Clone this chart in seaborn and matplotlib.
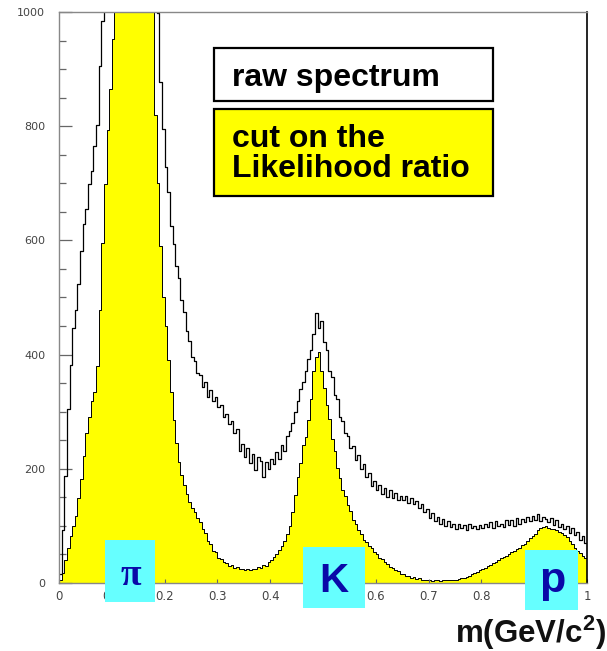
import numpy as np
import pandas as pd
import matplotlib
matplotlib.use("Agg")
import matplotlib.pyplot as plt
from matplotlib.patches import Rectangle
import seaborn as sns

# Invariant-mass spectrum, 200 bins of 5 MeV/c^2 between 0 and 1 GeV/c^2
bin_edges = [round(0.005 * i, 3) for i in range(201)]

raw_counts = [
    15, 92, 188, 305, 382, 446, 478, 524, 582, 628,
    655, 698, 722, 765, 802, 905, 985, 1105, 1245, 1410,
    1560, 1720, 1880, 2010, 2120, 2200, 2240, 2230, 2180, 2100,
    1950, 1780, 1600, 1420, 1260, 1150, 1065, 998, 878, 795,
    728, 684, 626, 594, 556, 534, 496, 474, 441, 424,
    396, 389, 368, 365, 344, 352, 326, 338, 318, 326,
    308, 312, 290, 296, 278, 284, 262, 270, 232, 244,
    221, 236, 210, 226, 198, 220, 214, 185, 212, 200,
    218, 208, 230, 218, 242, 232, 258, 266, 280, 300,
    318, 340, 352, 372, 392, 408, 436, 472, 446, 458,
    422, 408, 372, 360, 330, 322, 290, 284, 262, 258,
    236, 240, 216, 224, 200, 208, 186, 192, 170, 178,
    162, 172, 156, 166, 150, 162, 148, 158, 145, 152,
    146, 152, 140, 148, 138, 144, 132, 138, 124, 130,
    114, 122, 108, 116, 104, 112, 100, 108, 98, 104,
    94, 104, 96, 102, 92, 104, 96, 100, 94, 102,
    96, 104, 98, 106, 96, 108, 100, 104, 98, 110,
    102, 110, 100, 114, 104, 112, 106, 116, 108, 118,
    110, 120, 108, 116, 112, 106, 114, 102, 110, 98,
    104, 94, 100, 88, 96, 84, 90, 76, 82, 70,
]

cut_counts = [
    5, 18, 40, 62, 82, 100, 118, 148, 182, 222,
    262, 290, 318, 335, 380, 478, 596, 698, 794, 866,
    952, 1035, 1120, 1220, 1320, 1420, 1500, 1560, 1600, 1610,
    1580, 1520, 1430, 1320, 1200, 1000, 820, 700, 590, 500,
    450, 390, 335, 285, 245, 212, 190, 172, 156, 142,
    132, 124, 113, 107, 94, 88, 74, 68, 56, 54,
    44, 42, 36, 35, 30, 31, 27, 28, 24, 25,
    22, 24, 22, 25, 24, 28, 26, 31, 30, 36,
    40, 46, 50, 57, 64, 74, 86, 100, 124, 154,
    186, 210, 242, 255, 285, 322, 372, 396, 404, 372,
    342, 312, 288, 252, 232, 202, 184, 162, 152, 136,
    126, 110, 104, 92, 86, 76, 72, 64, 61, 54,
    51, 44, 42, 36, 34, 28, 27, 22, 21, 16,
    15, 12, 12, 9, 10, 7, 8, 6, 6, 5,
    5, 4, 5, 5, 4, 5, 5, 6, 5, 6,
    6, 7, 8, 9, 11, 12, 15, 17, 20, 22,
    25, 27, 30, 32, 35, 37, 40, 43, 46, 48,
    50, 54, 56, 60, 62, 66, 68, 74, 78, 82,
    86, 92, 96, 98, 100, 97, 95, 94, 92, 90,
    88, 84, 80, 74, 68, 62, 56, 52, 48, 44,
]

x_ticks = [0, 0.1, 0.2, 0.3, 0.4, 0.5, 0.6, 0.7, 0.8, 0.9, 1]
x_tick_labels = ["0", "0.1", "0.2", "0.3", "0.4", "0.5", "0.6", "0.7", "0.8", "0.9", "1"]
y_ticks = [0, 200, 400, 600, 800, 1000]

particles = ["\u03c0", "K", "p"]

edges_arr = np.array(bin_edges)
centers = (edges_arr[:-1] + edges_arr[1:]) / 2
df = pd.DataFrame({"m": centers, "raw": raw_counts, "cut": cut_counts})

W, H = 607, 651
fig = plt.figure(figsize=(W / 100, H / 100), dpi=100)
fig.patch.set_facecolor("white")


def fx(px):
    return px / W


def fy(py):
    return 1 - py / H


ax = fig.add_axes([fx(59), fy(583), fx(587) - fx(59), fy(12) - fy(583)])

sns.histplot(data=df, x="m", weights="cut", bins=bin_edges, element="step",
             fill=True, color="#FFFF00", alpha=1.0, edgecolor="black",
             linewidth=0.7, ax=ax)
sns.histplot(data=df, x="m", weights="raw", bins=bin_edges, element="step",
             fill=False, color="black", linewidth=0.9, ax=ax)

ax.set_xlim(0, 1)
ax.set_ylim(0, 1000)
ax.set_xlabel("")
ax.set_ylabel("")
ax.set_xticks(x_ticks)
ax.set_xticklabels(x_tick_labels)
ax.set_yticks(y_ticks)
ax.set_yticks(np.arange(0, 1001, 50), minor=True)
ax.tick_params(axis="y", which="major", direction="in", length=9.5, width=0.9,
               color="#666666", labelsize=8, labelcolor="#444444", pad=10)
ax.tick_params(axis="y", which="minor", direction="in", length=5, width=0.9,
               color="#666666")
ax.tick_params(axis="x", which="major", direction="in", length=3, width=0.8,
               color="#666666", labelsize=8.5, labelcolor="#444444", pad=5)
for side in ["left", "bottom", "top"]:
    ax.spines[side].set_color("#888888")
    ax.spines[side].set_linewidth(1.0)
ax.spines["right"].set_color("black")
ax.spines["right"].set_linewidth(1.2)
ax.grid(False)

# Legend boxes
fig.add_artist(Rectangle((fx(214), fy(101)), fx(493) - fx(214), fy(48) - fy(101),
                         transform=fig.transFigure, facecolor="white",
                         edgecolor="black", linewidth=1.6, zorder=5))
fig.add_artist(Rectangle((fx(214), fy(196)), fx(493) - fx(214), fy(109) - fy(196),
                         transform=fig.transFigure, facecolor="#FFFF00",
                         edgecolor="black", linewidth=1.6, zorder=5))
legend_font = dict(family="Liberation Sans", weight="bold", size=23, color="black",
                   ha="left", va="baseline", zorder=6)
fig.text(fx(232), fy(86), "raw spectrum", **legend_font)
fig.text(fx(232), fy(147), "cut on the", **legend_font)
fig.text(fx(232), fy(177), "Likelihood ratio", **legend_font)

# Particle labels in cyan boxes
boxes = [(105, 540, 155, 602), (303, 547, 365, 608), (525, 550, 578, 610)]
label_pos = [(131, 585), (334, 592), (552, 592)]
label_font = [
    dict(family="Liberation Serif", weight="bold", size=27),
    dict(family="Liberation Sans", weight="bold", size=29),
    dict(family="Liberation Sans", weight="bold", size=31),
]
for name, (x0, y0, x1, y1), (tx, ty), fnt in zip(particles, boxes, label_pos, label_font):
    fig.add_artist(Rectangle((fx(x0), fy(y1)), fx(x1) - fx(x0), fy(y0) - fy(y1),
                             transform=fig.transFigure, facecolor="#66FFFF",
                             edgecolor="none", zorder=5))
    fig.text(fx(tx), fy(ty), name, ha="center", va="baseline", color="#0A0AA8",
             zorder=6, **fnt)

# Axis title
plt.rcParams["mathtext.fontset"] = "custom"
plt.rcParams["mathtext.rm"] = "Liberation Sans:bold"
plt.rcParams["mathtext.it"] = "Liberation Sans:bold"
plt.rcParams["mathtext.bf"] = "Liberation Sans:bold"
fig.text(fx(606), fy(643), r"m(GeV/c$^{\mathrm{2}}$)", ha="right", va="baseline",
         family="Liberation Sans", weight="bold", size=22.5, color="#111111", zorder=6)

fig.savefig("out.png", dpi=100, facecolor="white")
